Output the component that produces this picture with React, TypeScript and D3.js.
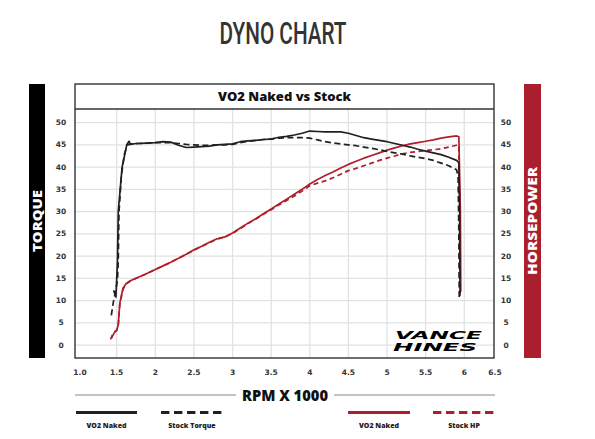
import React from 'react';
import * as d3 from 'd3';

// rpm x 1000, ft-lb / hp read from the dyno sheet
const nakedTorque: [number, number][] = [
  [1.46, 12.3], [1.49, 10.8], [1.51, 19], [1.52, 30], [1.55, 36], [1.57, 40], [1.6, 42.5],
  [1.63, 45], [1.66, 45.8], [1.68, 45.1], [1.75, 45.3], [1.9, 45.4], [2.0, 45.5], [2.1, 45.7],
  [2.2, 45.6], [2.3, 44.9], [2.4, 44.4], [2.5, 44.5], [2.6, 44.6], [2.7, 44.7], [2.8, 45],
  [2.9, 45.1], [3.0, 45.2], [3.1, 45.7], [3.2, 45.9], [3.3, 46], [3.4, 46.2], [3.5, 46.3],
  [3.6, 46.7], [3.7, 46.9], [3.8, 47.2], [3.9, 47.6], [4.0, 48.1], [4.1, 48], [4.2, 47.9],
  [4.3, 47.9], [4.4, 47.9], [4.5, 47.6], [4.6, 47.1], [4.7, 46.6], [4.8, 46.3], [4.9, 46],
  [5.0, 45.7], [5.1, 45.3], [5.2, 44.9], [5.3, 44.5], [5.4, 44], [5.5, 43.6], [5.6, 43.2],
  [5.7, 42.8], [5.8, 42.2], [5.9, 41.5], [5.93, 41], [5.94, 30], [5.945, 11.5],
];

const stockTorque: [number, number][] = [
  [1.43, 6.7], [1.46, 10], [1.48, 11.6], [1.51, 14.6], [1.52, 19], [1.53, 30], [1.56, 38],
  [1.6, 43], [1.64, 45], [1.7, 45.2], [1.8, 45.3], [1.9, 45.4], [2.0, 45.5], [2.1, 45.5],
  [2.2, 45.5], [2.3, 45.3], [2.4, 45.1], [2.5, 45], [2.6, 44.9], [2.7, 44.9], [2.8, 45],
  [2.9, 45], [3.0, 45.1], [3.1, 45.5], [3.2, 45.8], [3.3, 46], [3.4, 46.2], [3.5, 46.3],
  [3.6, 46.5], [3.7, 46.6], [3.8, 46.6], [3.9, 46.6], [4.0, 46.5], [4.1, 46.1], [4.2, 45.7],
  [4.3, 45.4], [4.4, 45.2], [4.5, 45], [4.6, 44.8], [4.7, 44.5], [4.8, 44.2], [4.9, 43.9],
  [5.0, 43.5], [5.1, 43.2], [5.2, 42.9], [5.3, 42.5], [5.4, 42.2], [5.5, 41.9], [5.6, 41.5],
  [5.7, 40.9], [5.8, 40.3], [5.9, 39.4], [5.92, 38], [5.93, 25], [5.935, 10.5],
];

const nakedHp: [number, number][] = [
  [1.43, 1.5], [1.47, 2.8], [1.5, 3.4], [1.52, 4.5], [1.54, 9.4], [1.58, 12.7], [1.62, 13.8],
  [1.67, 14.4], [1.75, 15], [1.87, 15.9], [2.0, 17], [2.1, 17.8], [2.2, 18.6], [2.3, 19.5],
  [2.4, 20.4], [2.5, 21.4], [2.6, 22.2], [2.7, 23.1], [2.8, 23.9], [2.9, 24.3], [3.0, 25.2],
  [3.1, 26.3], [3.2, 27.4], [3.3, 28.4], [3.4, 29.5], [3.5, 30.6], [3.6, 31.7], [3.7, 32.8],
  [3.8, 33.9], [3.9, 35], [4.0, 36.2], [4.1, 37.2], [4.2, 38.1], [4.3, 38.9], [4.4, 39.8],
  [4.5, 40.6], [4.6, 41.3], [4.7, 42], [4.8, 42.6], [4.9, 43.2], [5.0, 43.8], [5.1, 44.3],
  [5.2, 44.8], [5.3, 45.2], [5.4, 45.5], [5.5, 45.8], [5.6, 46.1], [5.7, 46.5], [5.8, 46.8],
  [5.9, 47], [5.93, 46.8], [5.95, 30], [5.955, 12],
];

const stockHp: [number, number][] = [
  [1.42, 1.3], [1.46, 2.9], [1.5, 3.3], [1.52, 4.5], [1.54, 9.2], [1.58, 12.5], [1.62, 13.7],
  [1.67, 14.3], [1.75, 15], [1.87, 15.9], [2.0, 17], [2.1, 17.8], [2.2, 18.6], [2.3, 19.5],
  [2.4, 20.4], [2.5, 21.3], [2.6, 22.2], [2.7, 23], [2.8, 23.8], [2.9, 24.3], [3.0, 25.1],
  [3.1, 26.2], [3.2, 27.3], [3.3, 28.3], [3.4, 29.4], [3.5, 30.4], [3.6, 31.5], [3.7, 32.5],
  [3.8, 33.5], [3.9, 34.6], [4.0, 35.8], [4.1, 36.4], [4.2, 36.9], [4.3, 37.6], [4.4, 38.4],
  [4.5, 39.2], [4.6, 39.7], [4.7, 40.3], [4.8, 40.9], [4.9, 41.5], [5.0, 42], [5.1, 42.5],
  [5.2, 43], [5.3, 43.3], [5.4, 43.5], [5.5, 43.7], [5.6, 43.9], [5.7, 44.1], [5.8, 44.5],
  [5.9, 44.9], [5.93, 45], [5.94, 30], [5.945, 11],
];

const xTicks = [1.0, 1.5, 2, 2.5, 3, 3.5, 4, 4.5, 5, 5.5, 6, 6.5];
const xTickLabels = ['1.0', '1.5', '2', '2.5', '3', '3.5', '4', '4.5', '5', '5.5', '6', '6.5'];
const xGrid = [1.5, 2, 2.5, 3, 3.5, 4, 4.5, 5, 5.5, 6];
const yTicks = [0, 5, 10, 15, 20, 25, 30, 35, 40, 45, 50];

const legendNames = ['VO2 Naked', 'Stock Torque', 'VO2 Naked', 'Stock HP'];

const BLACK = '#231f20';
const RED = '#b01e2d';
const BAR_RED = '#a91f2d';
const BOLD = "'DejaVu Sans', Verdana, sans-serif";
const HEAD = "'Open Sans', 'DejaVu Sans', sans-serif";

export default function App() {
  const box = { left: 75, right: 494, top: 84, plotTop: 109, bottom: 358 };

  const x = d3.scaleLinear().domain([0.96, 6.385]).range([box.left, box.right]);
  const y = d3.scaleLinear().domain([-2.9, 53.05]).range([box.bottom, box.plotTop]);

  const line = d3
    .line<[number, number]>()
    .x((d) => x(d[0]))
    .y((d) => y(d[1]));

  const series = [
    { data: nakedHp, color: RED, dash: null },
    { data: stockHp, color: RED, dash: '5,3.5' },
    { data: nakedTorque, color: BLACK, dash: null },
    { data: stockTorque, color: BLACK, dash: '6,3.5' },
  ];

  const legend = [
    { color: BLACK, dash: null, x0: 76, x1: 137 },
    { color: BLACK, dash: '8.4,4.6', x0: 161, x1: 223 },
    { color: RED, dash: null, x0: 348, x1: 410 },
    { color: RED, dash: '8.4,4.6', x0: 433, x1: 495 },
  ];

  const midY = (box.top + box.bottom) / 2;

  return (
    <svg
      width={595}
      height={439}
      style={{ position: 'absolute', left: 0, top: 0, background: '#fff' }}
    >
      {/* page title */}
      <text
        x={283}
        y={44}
        textAnchor="middle"
        fontFamily="Roboto, 'DejaVu Sans Condensed', sans-serif"
        fontWeight={500}
        fontSize={32}
        fill="#333"
        textLength={127}
        lengthAdjust="spacingAndGlyphs"
      >
        DYNO CHART
      </text>

      {/* side bars */}
      <rect x={29} y={box.top} width={16} height={box.bottom - box.top} fill="#000" />
      <text
        transform={`translate(41.5,${midY}) rotate(-90)`}
        textAnchor="middle"
        fontFamily={HEAD}
        fontWeight={800}
        fontSize={12.5}
        fill="#fff"
        textLength={62}
        lengthAdjust="spacingAndGlyphs"
      >
        TORQUE
      </text>
      <rect x={524} y={box.top} width={17} height={box.bottom - box.top} fill={BAR_RED} />
      <text
        transform={`translate(537,${midY}) rotate(-90)`}
        textAnchor="middle"
        fontFamily={HEAD}
        fontWeight={800}
        fontSize={12.5}
        fill="#fff"
        textLength={108}
        lengthAdjust="spacingAndGlyphs"
      >
        HORSEPOWER
      </text>

      {/* grid */}
      {yTicks.map((t) => (
        <line key={'gy' + t} x1={box.left} x2={box.right} y1={y(t)} y2={y(t)} stroke="#e2e2e2" strokeWidth={1.3} />
      ))}
      {xGrid.map((t) => (
        <line key={'gx' + t} x1={x(t)} x2={x(t)} y1={box.plotTop} y2={box.bottom} stroke="#e2e2e2" strokeWidth={1.3} />
      ))}

      {/* curves */}
      <g fill="none" strokeLinejoin="round">
        {series.map((s, i) => (
          <path
            key={i}
            d={line(s.data) || ''}
            stroke={s.color}
            strokeWidth={1.7}
            strokeDasharray={s.dash || undefined}
          />
        ))}
      </g>

      {/* logo */}
      <g fontFamily={BOLD} fontWeight={900} fontStyle="italic" fill="#000">
        <text x={395} y={338.5} fontSize={10.5} textLength={87} lengthAdjust="spacingAndGlyphs">
          VANCE
        </text>
        <text x={393} y={351} fontSize={10.5} textLength={84} lengthAdjust="spacingAndGlyphs">
          HINES
        </text>
      </g>

      {/* plot frame and title box */}
      <rect
        x={box.left}
        y={box.top}
        width={box.right - box.left}
        height={box.bottom - box.top}
        fill="none"
        stroke="#333"
        strokeWidth={1.4}
      />
      <line x1={box.left} x2={box.right} y1={box.plotTop} y2={box.plotTop} stroke="#333" strokeWidth={1.4} />
      <text
        x={(box.left + box.right) / 2}
        y={101}
        textAnchor="middle"
        fontFamily={HEAD}
        fontWeight={800}
        fontSize={13}
        fill="#111"
        textLength={133}
        lengthAdjust="spacingAndGlyphs"
      >
        VO2 Naked vs Stock
      </text>

      {/* y tick labels */}
      <g fontFamily={BOLD} fontWeight="bold" fontSize={7.5} fill="#333" textAnchor="middle">
        {yTicks.map((t) => (
          <text key={'l' + t} x={61} y={y(t)} dy="0.35em">
            {t}
          </text>
        ))}
        {yTicks.map((t) => (
          <text key={'r' + t} x={506} y={y(t)} dy="0.35em">
            {t}
          </text>
        ))}
      </g>

      {/* x tick labels */}
      <g fontFamily={BOLD} fontWeight="bold" fontSize={7.5} fill="#333" textAnchor="middle">
        {xTicks.map((t, i) => (
          <text key={'x' + t} x={Math.min(Math.max(x(t), box.left + 5), box.right + 1)} y={375}>
            {xTickLabels[i]}
          </text>
        ))}
      </g>

      {/* axis title */}
      <line x1={box.left} x2={236} y1={395} y2={395} stroke="#888" strokeWidth={1} />
      <line x1={334} x2={box.right + 1} y1={395} y2={395} stroke="#888" strokeWidth={1} />
      <text
        x={285}
        y={401}
        textAnchor="middle"
        fontFamily={HEAD}
        fontWeight={800}
        fontSize={16}
        fill="#111"
        textLength={86}
        lengthAdjust="spacingAndGlyphs"
      >
        RPM X 1000
      </text>

      {/* legend */}
      {legend.map((l, i) => (
        <g key={'lg' + i}>
          <line
            x1={l.x0}
            x2={l.x1}
            y1={412.5}
            y2={412.5}
            stroke={l.color}
            strokeWidth={3}
            strokeDasharray={l.dash || undefined}
          />
          <text
            x={(l.x0 + l.x1) / 2}
            y={428}
            textAnchor="middle"
            fontFamily={HEAD}
            fontWeight={800}
            fontSize={7}
            fill="#222"
          >
            {legendNames[i]}
          </text>
        </g>
      ))}
    </svg>
  );
}
